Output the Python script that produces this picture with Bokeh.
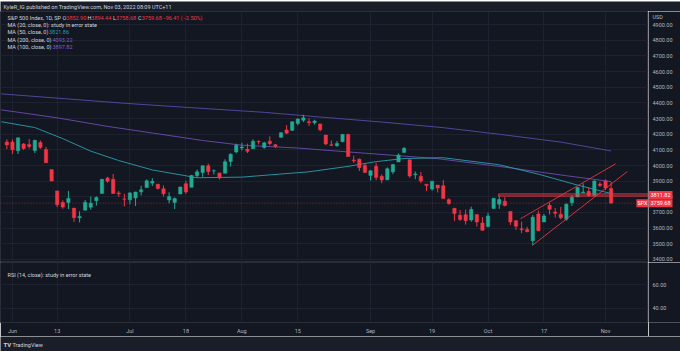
from bokeh.plotting import figure
from bokeh.layouts import column, row
from bokeh.models import Range1d, FixedTicker, Label, ColumnDataSource, Span, Grid
from bokeh.embed import file_html
from bokeh.resources import INLINE
from bokeh.core.properties import value

# ---------------- data ----------------
dates = [
    "2022-05-31", "2022-06-01", "2022-06-02", "2022-06-03", "2022-06-06", "2022-06-07", "2022-06-08",
    "2022-06-09", "2022-06-10", "2022-06-13", "2022-06-14", "2022-06-15", "2022-06-16", "2022-06-17",
    "2022-06-21", "2022-06-22", "2022-06-23", "2022-06-24", "2022-06-27", "2022-06-28", "2022-06-29",
    "2022-06-30", "2022-07-01", "2022-07-05", "2022-07-06", "2022-07-07", "2022-07-08", "2022-07-11",
    "2022-07-12", "2022-07-13", "2022-07-14", "2022-07-15", "2022-07-18", "2022-07-19", "2022-07-20",
    "2022-07-21", "2022-07-22", "2022-07-25", "2022-07-26", "2022-07-27", "2022-07-28", "2022-07-29",
    "2022-08-01", "2022-08-02", "2022-08-03", "2022-08-04", "2022-08-05", "2022-08-08", "2022-08-09",
    "2022-08-10", "2022-08-11", "2022-08-12", "2022-08-15", "2022-08-16", "2022-08-17", "2022-08-18",
    "2022-08-19", "2022-08-22", "2022-08-23", "2022-08-24", "2022-08-25", "2022-08-26", "2022-08-29",
    "2022-08-30", "2022-08-31", "2022-09-01", "2022-09-02", "2022-09-06", "2022-09-07", "2022-09-08",
    "2022-09-09", "2022-09-12", "2022-09-13", "2022-09-14", "2022-09-15", "2022-09-16", "2022-09-19",
    "2022-09-20", "2022-09-21", "2022-09-22", "2022-09-23", "2022-09-26", "2022-09-27", "2022-09-28",
    "2022-09-29", "2022-09-30", "2022-10-03", "2022-10-04", "2022-10-05", "2022-10-06", "2022-10-07",
    "2022-10-10", "2022-10-11", "2022-10-12", "2022-10-13", "2022-10-14", "2022-10-17", "2022-10-18",
    "2022-10-19", "2022-10-20", "2022-10-21", "2022-10-24", "2022-10-25", "2022-10-26", "2022-10-27",
    "2022-10-28", "2022-10-31", "2022-11-01", "2022-11-02",
]
opens = [
    4151, 4150, 4095, 4138, 4135, 4096, 4147, 4102, 3974, 3838, 3764, 3764, 3728, 3666,
    3715, 3734, 3775, 3822, 3921, 3913, 3825, 3786, 3781, 3793, 3832, 3859, 3888, 3881,
    3852, 3780, 3764, 3818, 3884, 3861, 3935, 3955, 3998, 3966, 3953, 3951, 4026, 4087,
    4112, 4104, 4108, 4155, 4116, 4156, 4133, 4181, 4227, 4225, 4269, 4290, 4280, 4273,
    4266, 4195, 4133, 4127, 4153, 4199, 4035, 4041, 4001, 3937, 3995, 3931, 3909, 3960,
    4023, 4084, 4037, 3941, 3932, 3881, 3850, 3875, 3871, 3782, 3727, 3683, 3686, 3652,
    3687, 3633, 3610, 3726, 3753, 3772, 3707, 3648, 3596, 3591, 3520, 3690, 3639, 3746,
    3703, 3689, 3657, 3762, 3799, 3826, 3835, 3808, 3882, 3902, 3852.90,
]
highs = [
    4168, 4167, 4178, 4143, 4169, 4165, 4160, 4119, 3974, 3838, 3778, 3838, 3728, 3708,
    3780, 3802, 3803, 3914, 3928, 3946, 3837, 3819, 3830, 3832, 3871, 3911, 3919, 3881,
    3873, 3829, 3796, 3864, 3902, 3940, 3974, 3999, 4012, 3975, 3953, 4040, 4079, 4140,
    4145, 4140, 4168, 4161, 4152, 4187, 4137, 4211, 4258, 4280, 4302, 4325, 4302, 4293,
    4266, 4195, 4160, 4157, 4201, 4203, 4063, 4045, 4015, 3970, 4018, 3943, 3988, 4011,
    4077, 4119, 4037, 3962, 3959, 3881, 3900, 3876, 3907, 3791, 3727, 3716, 3718, 3737,
    3687, 3671, 3698, 3792, 3807, 3798, 3707, 3652, 3641, 3608, 3685, 3712, 3690, 3763,
    3729, 3736, 3758, 3811, 3863, 3886, 3860, 3905, 3894, 3912, 3894.44,
]
lows = [
    4105, 4074, 4074, 4099, 4109, 4080, 4107, 4017, 3900, 3734, 3724, 3722, 3640, 3637,
    3715, 3718, 3744, 3822, 3890, 3820, 3799, 3739, 3752, 3742, 3809, 3859, 3869, 3847,
    3802, 3759, 3722, 3817, 3819, 3861, 3922, 3928, 3939, 3943, 3911, 3951, 3993, 4079,
    4096, 4080, 4108, 4135, 4107, 4129, 4112, 4177, 4201, 4220, 4257, 4278, 4253, 4262,
    4219, 4130, 4124, 4120, 4148, 4057, 4017, 3965, 3955, 3904, 3906, 3887, 3906, 3945,
    4023, 4084, 3922, 3913, 3888, 3837, 3839, 3828, 3789, 3749, 3647, 3645, 3623, 3641,
    3610, 3584, 3605, 3726, 3723, 3739, 3621, 3588, 3568, 3574, 3492, 3580, 3639, 3687,
    3667, 3656, 3647, 3742, 3799, 3824, 3804, 3808, 3863, 3844, 3758.68,
]
closes = [
    4132, 4101, 4177, 4109, 4121, 4161, 4116, 4018, 3901, 3750, 3735, 3790, 3667, 3675,
    3765, 3760, 3796, 3912, 3900, 3822, 3819, 3785, 3825, 3831, 3845, 3903, 3899, 3854,
    3819, 3802, 3790, 3863, 3831, 3937, 3960, 3999, 3962, 3967, 3921, 4024, 4072, 4130,
    4119, 4091, 4155, 4152, 4145, 4140, 4122, 4210, 4207, 4280, 4297, 4305, 4274, 4284,
    4228, 4138, 4129, 4141, 4199, 4058, 4031, 3986, 3955, 3967, 3924, 3908, 3980, 4006,
    4067, 4110, 3933, 3946, 3901, 3873, 3900, 3856, 3790, 3758, 3693, 3655, 3647, 3719,
    3640, 3586, 3678, 3791, 3783, 3745, 3640, 3612, 3589, 3577, 3670, 3583, 3678, 3720,
    3695, 3666, 3753, 3797, 3859, 3831, 3807, 3901, 3872, 3856, 3759.68,
]

# moving averages (knots)
ma50_dates = ["2022-05-27", "2022-06-07", "2022-06-14", "2022-06-22", "2022-06-29", "2022-07-08",
              "2022-07-20", "2022-08-01", "2022-08-17", "2022-08-26", "2022-09-02", "2022-09-12",
              "2022-09-21", "2022-10-05", "2022-10-14", "2022-10-25", "2022-11-01", "2022-11-02"]
ma50_values = [4280, 4243, 4172, 4092, 4032, 3972, 3922, 3926, 3960, 3995, 4025, 4045,
               4050, 4005, 3945, 3875, 3830, 3821.86]
ma100_dates = ["2022-05-27", "2022-06-13", "2022-06-27", "2022-07-08", "2022-07-21", "2022-08-01",
               "2022-08-15", "2022-08-26", "2022-09-20", "2022-10-07", "2022-10-21", "2022-11-02"]
ma100_values = [4356, 4305, 4250, 4208, 4160, 4130, 4112, 4087, 4044, 3985, 3935, 3897.82]
ma200_dates = ["2022-05-27", "2022-06-30", "2022-07-18", "2022-08-05", "2022-08-19", "2022-09-06",
               "2022-09-21", "2022-10-05", "2022-10-20", "2022-11-02"]
ma200_values = [4458, 4398, 4372, 4340, 4310, 4278, 4242, 4200, 4150, 4093.22]

# drawings (trading-day offsets from Jun 1, prices)
level_price = 3811.82
level_start = "2022-10-05"
channel_upper_days = [90.8, 107.8]
channel_upper_prices = [3660, 4011]
channel_lower_days = [92.9, 109.9]
channel_lower_prices = [3489, 3962]
last_price = 3759.68

tick_dates = ["2022-06-01", "2022-06-13", "2022-07-01", "2022-07-18", "2022-08-01", "2022-08-15",
              "2022-09-01", "2022-09-19", "2022-10-03", "2022-10-17", "2022-11-01"]
tick_labels = ["Jun", "13", "Jul", "18", "Aug", "15", "Sep", "19", "Oct", "17", "Nov"]
price_ticks = [3400, 3500, 3600, 3700, 3800, 3900, 4000, 4100, 4200, 4300, 4400, 4500, 4600, 4700, 4800, 4900]
rsi_ticks = [40, 60]

# ---------------- styling ----------------
BG = "#131722"
STRIP = "#1a1e29"
GRID = "#1e2230"
OUTLINE = "#2a2e39"
TXT = "#b2b5be"
HDR = "#d1d4dc"
UP = "#22ab94"
DOWN = "#f23645"
C50 = "#2a9fac"
C100 = "#6d4bb3"
C200 = "#574ba8"
FONT = "Roboto"
FS = "5.5px"
AXW = 32

all_days = ["2022-05-27"] + dates
ref = all_days.index("2022-06-01")


def day_pos(d):
    return all_days.index(d) - ref


xr = Range1d(-2.134, 113.68)
price_yr = Range1d(3380.5, 4984.3)
rsi_yr = Range1d(27.78, 79.06)
tick_pos = [day_pos(d) for d in tick_dates]


def pane(h, yr, **kw):
    f = figure(width=680 - AXW, height=h, x_range=xr, y_range=yr, toolbar_location=None,
               output_backend="svg", background_fill_color=BG, border_fill_color=BG,
               outline_line_color=OUTLINE, min_border_left=0, min_border_right=0,
               min_border_top=0, y_axis_location=None, **kw)
    f.grid.visible = False
    f.add_layout(Grid(dimension=0, ticker=FixedTicker(ticks=tick_pos), grid_line_color=GRID))
    return f


def scale_fig(h, yr, ticks, bottom):
    """Right-hand price scale column (shares the pane's y range)."""
    f = figure(width=AXW, height=h, x_range=Range1d(0, AXW), y_range=yr, toolbar_location=None,
               output_backend="svg", background_fill_color=BG, border_fill_color=BG,
               outline_line_color=None, min_border=0, min_border_bottom=bottom,
               x_axis_location=None, y_axis_location=None)
    f.grid.visible = False
    f.text(x=[4] * len(ticks), y=ticks, text=["%.2f" % t for t in ticks], text_color=TXT,
           text_font=value(FONT), text_font_size=FS, text_baseline="middle")
    return f


# ---------------- top strip ----------------
top = figure(width=680, height=11, x_range=Range1d(0, 680), y_range=Range1d(0, 11),
             toolbar_location=None, output_backend="svg", min_border=0,
             background_fill_color=STRIP, border_fill_color=STRIP, outline_line_color=None,
             x_axis_location=None, y_axis_location=None)
top.grid.visible = False
top.add_layout(Label(x=3, y=5.5, text="KyleR_IG published on TradingView.com, Nov 03, 2022 08:09 UTC+11",
                     text_color=HDR, text_font=FONT, text_font_size=FS, text_baseline="middle"))

# ---------------- price pane ----------------
price = pane(251, price_yr, x_axis_location=None, min_border_bottom=0)
price.add_layout(Grid(dimension=1, ticker=FixedTicker(ticks=price_ticks), grid_line_color=GRID))

src = ColumnDataSource(dict(
    x=[day_pos(d) for d in dates], o=opens, h=highs, l=lows, c=closes,
    color=[UP if c >= o else DOWN for o, c in zip(opens, closes)],
))
price.line([day_pos(d) for d in ma200_dates], ma200_values, line_color=C200, line_width=1, line_alpha=0.9)
price.line([day_pos(d) for d in ma100_dates], ma100_values, line_color=C100, line_width=1, line_alpha=0.9)
price.line([day_pos(d) for d in ma50_dates], ma50_values, line_color=C50, line_width=1, line_alpha=0.9)

price.add_layout(Span(location=last_price, dimension="width", line_color=DOWN, line_alpha=0.55,
                      line_dash="1 2", line_width=1))
price.segment(x0="x", y0="h", x1="x", y1="l", color="color", line_width=1, source=src)
price.vbar(x="x", width=0.6, top="o", bottom="c", fill_color="color", line_color="color",
           line_width=0.5, source=src)

price.quad(left=[day_pos(level_start) - 0.1], right=[xr.end], top=[level_price + 6.5],
           bottom=[level_price - 6.5], fill_alpha=0, line_color=DOWN, line_width=1)
price.line(channel_upper_days, channel_upper_prices, line_color=DOWN, line_width=1, line_alpha=0.85)
price.line(channel_lower_days, channel_lower_prices, line_color=DOWN, line_width=1, line_alpha=0.85)

price.add_layout(Label(x=680 - AXW, x_units="screen", y=last_price, text="SPX", text_color="white",
                       background_fill_color=DOWN, text_font=FONT, text_font_size=FS,
                       text_baseline="middle", text_align="right", padding=1))

# legend header
hdr_rows = [
    (244.7, [(7, "S&P 500 Index, 1D, SP", HDR), (62, "O", HDR), (65.8, "3852.90", DOWN),
             (87, "H", HDR), (90.8, "3894.44", DOWN), (112.5, "L", HDR), (115.6, "3758.68", DOWN),
             (137.5, "C", HDR), (141.3, "3759.68", DOWN), (162, "\u221296.41 (\u22122.50%)", DOWN)]),
    (237.3, [(7, "MA (20, close, 0): study in error state", HDR)]),
    (230.3, [(7, "MA (50, close, 0)", HDR), (48.5, "3821.86", C50)]),
    (223.0, [(7, "MA (200, close, 0)", HDR), (52, "4093.22", "#7a5fd0")]),
    (215.7, [(7, "MA (100, close, 0)", HDR), (52, "3897.82", "#8a5ad6")]),
]
for yy, parts in hdr_rows:
    for xx, t, col in parts:
        price.add_layout(Label(x=xx, y=yy, x_units="screen", y_units="screen", text=t,
                               text_color=col, text_font=FONT, text_font_size=FS,
                               text_baseline="middle"))

# price scale with tags
pscale = scale_fig(251, price_yr, price_ticks, 0)
pscale.add_layout(Label(x=3, y=246, x_units="screen", y_units="screen", text="USD",
                        text_color=TXT, text_font=FONT, text_font_size=FS, text_baseline="middle",
                        background_fill_color=BG, background_fill_alpha=0.85, padding=1))
for tag in (level_price, last_price):
    pscale.add_layout(Label(x=0, x_units="screen", y=tag, text="%.2f" % tag, text_color="white",
                            background_fill_color=DOWN, text_font=FONT, text_font_size=FS,
                            text_baseline="middle", padding=2))

# ---------------- RSI pane ----------------
rsi = pane(74, rsi_yr, x_axis_location="below", min_border_bottom=14)
rsi.add_layout(Grid(dimension=1, ticker=FixedTicker(ticks=rsi_ticks), grid_line_color=GRID))
xa = rsi.xaxis[0]
xa.ticker = FixedTicker(ticks=tick_pos)
xa.major_label_overrides = {p: l for p, l in zip(tick_pos, tick_labels)}
xa.axis_line_color = None
xa.major_tick_line_color = None
xa.minor_tick_line_color = None
xa.major_tick_out = 0
xa.major_tick_in = 0
xa.major_label_standoff = 5
xa.major_label_text_color = TXT
xa.major_label_text_font = FONT
xa.major_label_text_font_size = FS
rsi.add_layout(Label(x=7, y=48, x_units="screen", y_units="screen",
                     text="RSI (14, close): study in error state", text_color=HDR,
                     text_font=FONT, text_font_size=FS, text_baseline="middle"))
rscale = scale_fig(74, rsi_yr, rsi_ticks, 14)

# ---------------- bottom strip ----------------
bot = figure(width=680, height=15, x_range=Range1d(0, 680), y_range=Range1d(0, 15),
             toolbar_location=None, output_backend="svg", min_border=0,
             background_fill_color=STRIP, border_fill_color=STRIP, outline_line_color=None,
             x_axis_location=None, y_axis_location=None)
bot.grid.visible = False
bot.add_layout(Label(x=3, y=7, text="TV", text_color=HDR, text_font=FONT, text_font_size="6px",
                     text_font_style="bold", text_baseline="middle"))
bot.add_layout(Label(x=12, y=7, text="TradingView", text_color=HDR, text_font=FONT,
                     text_font_size=FS, text_baseline="middle"))

layout = column(top, row(price, pscale, spacing=0), row(rsi, rscale, spacing=0), bot, spacing=0)
open("out.html", "w").write(file_html(layout, INLINE))
